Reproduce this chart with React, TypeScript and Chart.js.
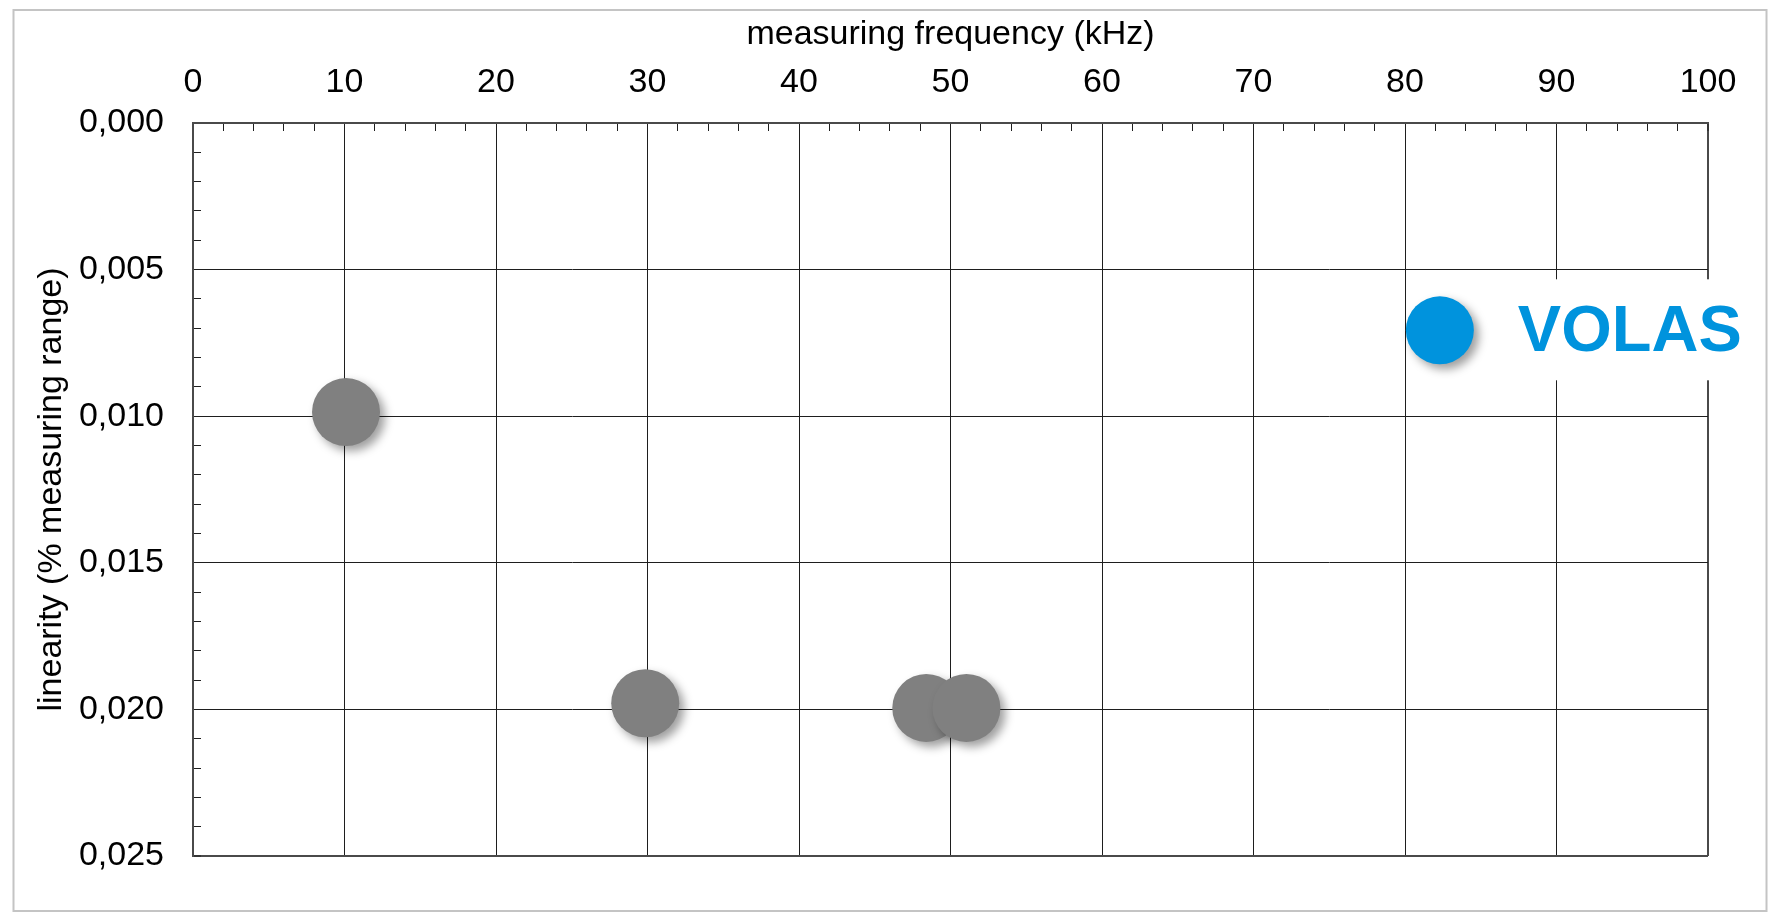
import React, { useEffect, useRef } from "react";
import { Chart, registerables } from "chart.js";

Chart.register(...registerables);

// ---- data ----
const xTitle = "measuring frequency (kHz)";
const yTitle = "linearity (% measuring range)";
const otherFreq = [10.1, 29.85, 48.4, 51.05];
const otherLin = [0.00986, 0.01979, 0.01995, 0.01995];
const volasFreq = [82.3];
const volasLin = [0.00707];
const volasLabel = "VOLAS";

const xMin = 0;
const xMax = 100;
const xMajor = 10;
const xMinor = 2;
const yMin = 0;
const yMax = 0.025;
const yMajor = 0.005;
const yMinor = 0.001;

const FONT = "'Liberation Sans', Arial, sans-serif";
const GRAY = "#808080";
const BLUE = "#0093dd";
const GRID = "#1e1e1e";
const EDGE = "#4a4a4a";

const isMajor = (v: number, step: number) =>
  Math.abs(v / step - Math.round(v / step)) < 1e-6;

const decoPlugin = {
  id: "deco",
  beforeDraw(chart: any) {
    const ctx = chart.ctx;
    ctx.save();
    ctx.fillStyle = "#ffffff";
    ctx.fillRect(0, 0, chart.width, chart.height);
    ctx.strokeStyle = "#c4c4c4";
    ctx.lineWidth = 2;
    ctx.strokeRect(13.5, 10, 1753, 901);
    ctx.restore();
  },
  beforeDatasetsDraw(chart: any) {
    const ctx = chart.ctx;
    ctx.save();
    ctx.shadowColor = "rgba(0,0,0,0.38)";
    ctx.shadowBlur = 10;
    ctx.shadowOffsetX = 5;
    ctx.shadowOffsetY = 5;
  },
  afterDatasetsDraw(chart: any) {
    const ctx = chart.ctx;
    ctx.restore();
    const meta = chart.getDatasetMeta(1);
    const pt = meta && meta.data && meta.data[0];
    if (!pt) return;
    ctx.save();
    ctx.fillStyle = "#ffffff";
    ctx.fillRect(pt.x + 62, pt.y - 51, 1760 - (pt.x + 62), 101);
    ctx.fillStyle = BLUE;
    ctx.font = `bold 65px ${FONT}`;
    ctx.textBaseline = "middle";
    ctx.textAlign = "left";
    ctx.fillText(volasLabel, pt.x + 78, pt.y + 3);
    ctx.restore();
  },
};

export default function App() {
  const ref = useRef<HTMLCanvasElement | null>(null);

  useEffect(() => {
    if (!ref.current) return;
    const chart = new Chart(ref.current, {
      type: "scatter",
      data: {
        datasets: [
          {
            data: otherFreq.map((x, i) => ({ x, y: otherLin[i] })),
            backgroundColor: GRAY,
            borderWidth: 0,
            pointRadius: 34,
            pointHoverRadius: 34,
          },
          {
            data: volasFreq.map((x, i) => ({ x, y: volasLin[i] })),
            backgroundColor: BLUE,
            borderWidth: 0,
            pointRadius: 34,
            pointHoverRadius: 34,
          },
        ],
      },
      options: {
        animation: false,
        responsive: false,
        events: [],
        layout: { padding: { left: 0, top: 0, right: 68, bottom: 64 } },
        plugins: {
          legend: { display: false },
          tooltip: { enabled: false },
        },
        scales: {
          x: {
            type: "linear",
            position: "top",
            min: xMin,
            max: xMax,
            afterFit: (s: any) => {
              s.height = 123;
            },
            ticks: {
              stepSize: xMinor,
              autoSkip: false,
              maxRotation: 0,
              minRotation: 0,
              maxTicksLimit: 1000,
              padding: 28,
              color: "#000",
              font: { family: FONT, size: 34 },
              callback: (v: any) => (isMajor(Number(v), xMajor) ? String(Math.round(Number(v))) : ""),
            },
            grid: {
              drawTicks: true,
              tickLength: -8,
              tickColor: GRID,
              tickWidth: 1,
              color: (c: any) => {
                const v = c.tick ? c.tick.value : 0;
                if (!isMajor(v, xMajor)) return "transparent";
                return Math.abs(v - xMax) < 1e-6 ? EDGE : GRID;
              },
              lineWidth: (c: any) => {
                const v = c.tick ? c.tick.value : 0;
                return Math.abs(v - xMax) < 1e-6 ? 2 : 1;
              },
            },
            border: { display: true, color: EDGE, width: 2 },
            title: {
              display: true,
              text: xTitle,
              color: "#000",
              font: { family: FONT, size: 34 },
              padding: { top: 14, bottom: 0 },
            },
          },
          y: {
            type: "linear",
            position: "left",
            reverse: true,
            min: yMin,
            max: yMax,
            afterFit: (s: any) => {
              s.width = 193;
            },
            ticks: {
              stepSize: yMinor,
              autoSkip: false,
              maxTicksLimit: 1000,
              padding: 37,
              color: "#000",
              font: { family: FONT, size: 34 },
              callback: (v: any) =>
                isMajor(Number(v), yMajor) ? Number(v).toFixed(3).replace(".", ",") : "",
            },
            grid: {
              drawTicks: true,
              tickLength: -8,
              tickColor: GRID,
              tickWidth: 1,
              color: (c: any) => {
                const v = c.tick ? c.tick.value : 0;
                if (!isMajor(v, yMajor)) return "transparent";
                return Math.abs(v - yMax) < 1e-9 ? EDGE : GRID;
              },
              lineWidth: (c: any) => {
                const v = c.tick ? c.tick.value : 0;
                return Math.abs(v - yMax) < 1e-9 ? 2 : 1;
              },
            },
            border: { display: true, color: EDGE, width: 2 },
            title: {
              display: true,
              text: yTitle,
              color: "#000",
              font: { family: FONT, size: 34 },
              padding: { top: 31, bottom: 0 },
            },
          },
        },
      },
      plugins: [decoPlugin],
    } as any);
    return () => chart.destroy();
  }, []);

  return (
    <div style={{ position: "absolute", left: 0, top: 0, width: 1776, height: 920, background: "#fff" }}>
      <canvas ref={ref} width={1776} height={920} style={{ width: 1776, height: 920, display: "block" }} />
    </div>
  );
}
